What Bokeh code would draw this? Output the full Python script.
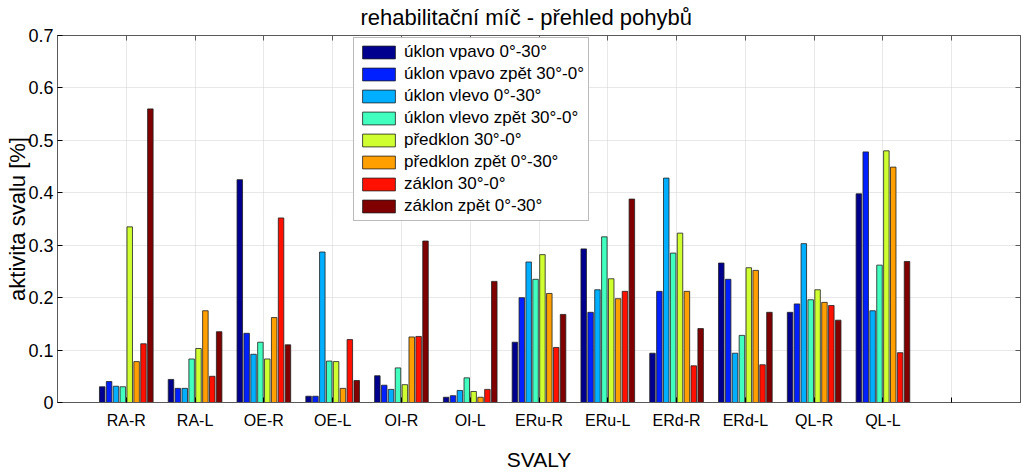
from bokeh.plotting import figure
from bokeh.models import (ColumnDataSource, FixedTicker, LinearAxis, Range1d,
                          CustomLabelingPolicy)
from bokeh.transform import dodge
from bokeh.embed import file_html
from bokeh.resources import INLINE

categories = ["RA-R", "RA-L", "OE-R", "OE-L", "OI-R", "OI-L",
              "ERu-R", "ERu-L", "ERd-R", "ERd-L", "QL-R", "QL-L"]

series_names = [
    "úklon vpavo 0°-30°",
    "úklon vpavo zpět 30°-0°",
    "úklon vlevo 0°-30°",
    "úklon vlevo zpět 30°-0°",
    "předklon 30°-0°",
    "předklon zpět 0°-30°",
    "záklon 30°-0°",
    "záklon zpět 0°-30°",
]

uklon_vpravo       = [0.030, 0.044, 0.425, 0.012, 0.051, 0.010, 0.115, 0.293, 0.094, 0.266, 0.172, 0.398]
uklon_vpravo_zpet  = [0.040, 0.027, 0.132, 0.012, 0.033, 0.013, 0.200, 0.172, 0.212, 0.235, 0.188, 0.478]
uklon_vlevo        = [0.031, 0.027, 0.092, 0.287, 0.025, 0.023, 0.268, 0.215, 0.428, 0.094, 0.303, 0.175]
uklon_vlevo_zpet   = [0.030, 0.083, 0.115, 0.079, 0.066, 0.047, 0.235, 0.316, 0.285, 0.128, 0.196, 0.262]
predklon           = [0.335, 0.103, 0.083, 0.078, 0.034, 0.021, 0.282, 0.236, 0.323, 0.257, 0.215, 0.480]
predklon_zpet      = [0.078, 0.175, 0.162, 0.027, 0.125, 0.010, 0.208, 0.198, 0.212, 0.252, 0.191, 0.449]
zaklon             = [0.112, 0.050, 0.352, 0.120, 0.126, 0.025, 0.105, 0.212, 0.070, 0.072, 0.185, 0.095]
zaklon_zpet        = [0.560, 0.135, 0.110, 0.042, 0.308, 0.231, 0.168, 0.388, 0.141, 0.172, 0.157, 0.269]

series_values = [uklon_vpravo, uklon_vpravo_zpet, uklon_vlevo, uklon_vlevo_zpet,
                 predklon, predklon_zpet, zaklon, zaklon_zpet]

colors = ["#00008F", "#0020FF", "#00AFFF", "#40FFBF",
          "#CFFF30", "#FF9F00", "#FF1000", "#800000"]

y_ticks = [0, 0.1, 0.2, 0.3, 0.4, 0.5, 0.6, 0.7]
y_tick_labels = ["0", "0.1", "0.2", "0.3", "0.4", "0.5", "0.6", "0.7"]

FONT = "Liberation Sans"
AX_COLOR = "#5a5a5a"

positions = list(range(1, len(categories) + 1))
x_ticks = list(range(1, len(categories) + 2))

p = figure(width=1024, height=473, output_backend="svg", toolbar_location=None,
           x_range=Range1d(0, 14), y_range=Range1d(0, 0.7),
           min_border_left=57, min_border_right=2, min_border_top=35, min_border_bottom=70,
           background_fill_color="white", border_fill_color="white")

p.title.text = "rehabilitační míč - přehled pohybů"
p.title.align = "left"
p.title.offset = 303
p.title.text_font = FONT
p.title.text_font_size = "22px"
p.title.text_font_style = "normal"
p.title.text_color = "black"
p.title.standoff = 3

n = len(series_values)
slot = 0.1
bar_w = 0.08
src_data = {"x": positions}
for i, vals in enumerate(series_values):
    src_data["s%d" % i] = vals
source = ColumnDataSource(src_data)

for i in range(n):
    off = (i - (n - 1) / 2) * slot
    p.vbar(x=dodge("x", off), top="s%d" % i, width=bar_w, bottom=0, source=source,
           fill_color=colors[i], line_color="#202020", line_width=1, line_alpha=0.8,
           legend_label=series_names[i])

# grids
p.xgrid.ticker = FixedTicker(ticks=x_ticks)
p.ygrid.ticker = FixedTicker(ticks=y_ticks)
for g in (p.xgrid[0], p.ygrid[0]):
    g.grid_line_color = "#d0d0d0"
    g.grid_line_width = 1
    g.grid_line_dash = "1 1"

# axes
xa = p.xaxis[0]
xa.ticker = FixedTicker(ticks=x_ticks)
overrides = {t: (categories[t - 1] if t <= len(categories) else "") for t in x_ticks}
xa.major_label_overrides = overrides
xa.axis_label = "SVALY"

ya = p.yaxis[0]
ya.ticker = FixedTicker(ticks=y_ticks)
ya.major_label_overrides = {t: l for t, l in zip(y_ticks, y_tick_labels)}
ya.axis_label = "aktivita svalu [%]"

for ax in (xa, ya):
    ax.major_tick_in = 5
    ax.major_tick_out = 0
    ax.minor_tick_in = 0
    ax.minor_tick_out = 0
    ax.axis_line_color = AX_COLOR
    ax.major_tick_line_color = "black"
    ax.major_label_text_font = FONT
    ax.major_label_text_color = "black"
    ax.axis_label_text_font = FONT
    ax.axis_label_text_font_style = "normal"
    ax.axis_label_text_color = "black"

xa.major_label_text_font_size = "16px"
xa.major_label_standoff = 9
xa.axis_label_text_font_size = "21px"
xa.axis_label_standoff = 16
ya.major_label_text_font_size = "18px"
ya.major_label_standoff = 4
ya.axis_label_text_font_size = "22px"
ya.axis_label_standoff = -5

# mirrored axes (box with inward ticks, no labels)
hide_labels = CustomLabelingPolicy(code="for (const i of indices) indices.unset(i)")
ra = LinearAxis(ticker=FixedTicker(ticks=y_ticks))
ta = LinearAxis(ticker=FixedTicker(ticks=x_ticks))
for ax in (ra, ta):
    ax.major_tick_in = 5
    ax.major_tick_out = 0
    ax.minor_tick_in = 0
    ax.minor_tick_out = 0
    ax.major_label_policy = hide_labels
    ax.major_label_text_font_size = "1px"
    ax.major_label_standoff = 0
    ax.axis_line_color = AX_COLOR
    ax.major_tick_line_color = AX_COLOR
p.add_layout(ra, "right")
p.add_layout(ta, "above")

p.outline_line_color = AX_COLOR
p.outline_line_width = 1

# legend
lg = p.legend[0]
lg.location = (296, 181)
lg.margin = 0
lg.padding = 4
lg.spacing = 2
lg.glyph_width = 41
lg.glyph_height = 16
lg.label_height = 16
lg.label_standoff = 5
lg.label_text_font = FONT
lg.label_text_font_size = "17px"
lg.label_text_color = "black"
lg.border_line_color = "#777777"
lg.border_line_width = 1
lg.background_fill_color = "white"
lg.background_fill_alpha = 1

open("out.html", "w").write(file_html(p, INLINE))
